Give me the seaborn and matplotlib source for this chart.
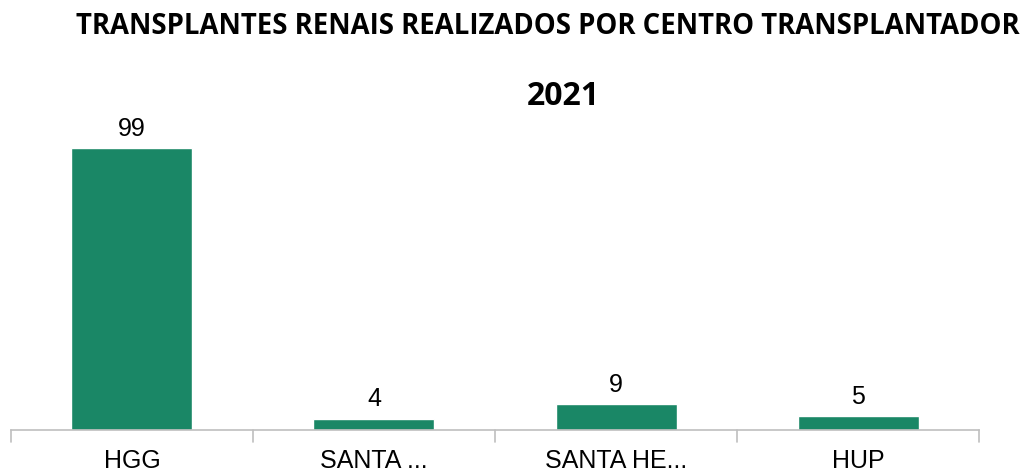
import matplotlib
matplotlib.use('Agg')
import matplotlib.pyplot as plt
import seaborn as sns
import pandas as pd

centros = ['HGG', 'SANTA ...', 'SANTA HE...', 'HUP']
transplantes = [99, 4, 9, 5]

df = pd.DataFrame({'centro': centros, 'qtd': transplantes})

sns.set_theme(style='white')
plt.rcParams['font.family'] = ['Liberation Sans', 'DejaVu Sans']

fig = plt.figure(figsize=(10.36, 4.74), dpi=100)
ax = fig.add_axes([0.0106, 0.0928, 0.9344, 0.698])

sns.barplot(data=df, x='centro', y='qtd', color='#1a8766', width=0.5, saturation=1, ax=ax)

for i, v in enumerate(transplantes):
    ax.text(i, v + 2.5, str(v), ha='center', va='bottom', fontsize=18, color='black')

ax.set_xlim(-0.5, len(centros) - 0.5)
ax.set_ylim(0, 116)
ax.set_xlabel('')
ax.set_ylabel('')
ax.set_yticks([])
ax.set_xticks(range(len(centros)))
ax.set_xticklabels(centros, fontsize=18, color='black')
ax.tick_params(axis='x', length=0, pad=14)

# tick marks between categories
for x in [-0.5, 0.5, 1.5, 2.5, 3.5]:
    ax.plot([x, x], [0, -0.035], transform=ax.get_xaxis_transform(), color='#bfbfbf', lw=1.2, clip_on=False)

for s in ['top', 'right', 'left']:
    ax.spines[s].set_visible(False)
ax.spines['bottom'].set_color('#bfbfbf')
ax.spines['bottom'].set_linewidth(1.2)

fig.text(0.529, 0.945, 'TRANSPLANTES RENAIS REALIZADOS POR CENTRO TRANSPLANTADOR',
         ha='center', va='center', fontsize=19.8, fontweight='bold', color='black',
         family=['Open Sans', 'DejaVu Sans'])
fig.text(0.5435, 0.797, '2021', ha='center', va='center', fontsize=23, fontweight='bold',
         color='black', family=['Open Sans', 'DejaVu Sans'])

fig.savefig('out.png', dpi=100)
